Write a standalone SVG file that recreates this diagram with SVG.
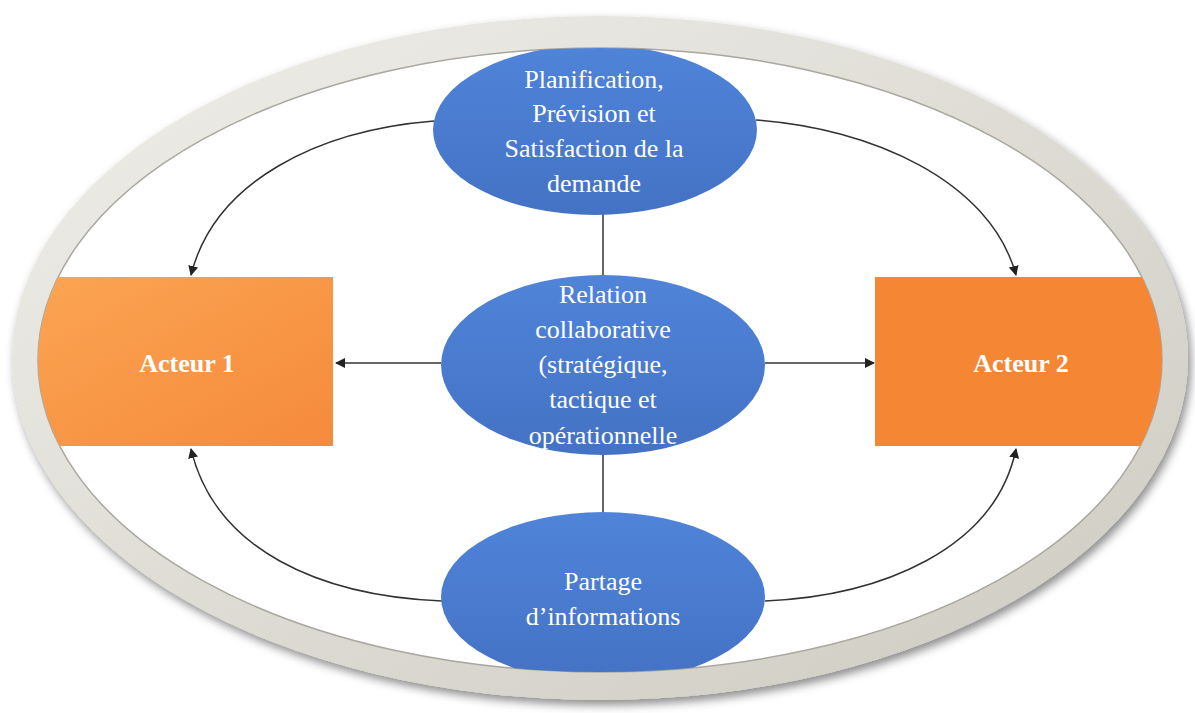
<svg xmlns="http://www.w3.org/2000/svg" width="1195" height="713" viewBox="0 0 1195 713">
<style>
.t{font-family:"Liberation Serif","Times New Roman",serif;font-size:26px;fill:#fff;text-anchor:middle}
.b{font-weight:bold}
.c{fill:none;stroke:#333;stroke-width:1.5}
</style>
<defs>
<filter id="sh" x="-10%" y="-10%" width="120%" height="125%">
<feDropShadow dx="3" dy="5" stdDeviation="5" flood-color="#000" flood-opacity="0.45"/>
</filter>
<clipPath id="in"><ellipse cx="600" cy="360" rx="562" ry="312"/></clipPath>
<linearGradient id="ring" x1="0" y1="0" x2="1" y2="1">
<stop offset="0" stop-color="#efeee9"/><stop offset="1" stop-color="#cdcbc1"/>
</linearGradient>
<linearGradient id="o1" x1="0" y1="0" x2="1" y2="1">
<stop offset="0" stop-color="#fba552"/><stop offset="1" stop-color="#f58a3c"/>
</linearGradient>
<linearGradient id="bl" x1="0" y1="0" x2="0" y2="1">
<stop offset="0" stop-color="#4f84d9"/><stop offset="1" stop-color="#4472c4"/>
</linearGradient>
<marker id="ar" viewBox="0 0 10 10" refX="9" refY="5" markerWidth="10" markerHeight="10" markerUnits="userSpaceOnUse" orient="auto">
<path d="M0,0 L10,5 L0,10 z" fill="#222"/>
</marker>
</defs>
<ellipse cx="600" cy="358" rx="588" ry="342" fill="url(#ring)" filter="url(#sh)"/>
<ellipse cx="600" cy="360" rx="562" ry="312" fill="#fff" stroke="#a9a79f" stroke-width="1.5"/>
<g clip-path="url(#in)">
<g id="connectors">
<line class="c" x1="603" y1="212" x2="603" y2="278"/>
<line class="c" x1="603" y1="452" x2="603" y2="514"/>
<line class="c" x1="441" y1="363" x2="336" y2="363" marker-end="url(#ar)"/>
<line class="c" x1="765" y1="363" x2="874" y2="363" marker-end="url(#ar)"/>
<path class="c" d="M434,121 C320,130 215,180 191,275" marker-end="url(#ar)"/>
<path class="c" d="M756,120 C870,128 990,180 1016,275" marker-end="url(#ar)"/>
<path class="c" d="M442,601 C320,596 215,550 191,449" marker-end="url(#ar)"/>
<path class="c" d="M765,601 C880,596 995,550 1016,449" marker-end="url(#ar)"/>
</g>
<g id="acteur1">
<rect x="30" y="277" width="303" height="169" fill="url(#o1)"/>
<text class="t b" x="187" y="372">Acteur 1</text>
</g>
<g id="acteur2">
<rect x="875" y="277" width="310" height="169" fill="#f58634"/>
<text class="t b" x="1021" y="372">Acteur 2</text>
</g>
<g id="planification">
<ellipse cx="595" cy="130" rx="162" ry="85" fill="url(#bl)"/>
<text class="t" x="594" y="88">Planification,</text>
<text class="t" x="594" y="122">Prévision et</text>
<text class="t" x="594" y="157">Satisfaction de la</text>
<text class="t" x="594" y="192">demande</text>
</g>
<g id="relation">
<ellipse cx="603" cy="365" rx="162" ry="90" fill="url(#bl)"/>
<text class="t" x="603" y="303">Relation</text>
<text class="t" x="603" y="338">collaborative</text>
<text class="t" x="603" y="373">(stratégique,</text>
<text class="t" x="603" y="408">tactique et</text>
<text class="t" x="603" y="444">opérationnelle</text>
</g>
<g id="partage">
<ellipse cx="603" cy="597" rx="162" ry="85" fill="url(#bl)"/>
<text class="t" x="603" y="590">Partage</text>
<text class="t" x="603" y="625">d’informations</text>
</g>
</g>
</svg>
